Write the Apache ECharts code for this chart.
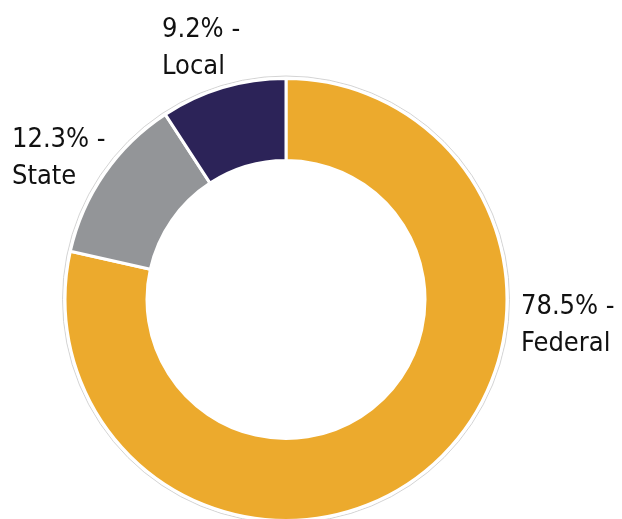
<!DOCTYPE html>
<html>
<head>
<meta charset="utf-8">
<script src="https://cdn.jsdelivr.net/npm/echarts@6/dist/echarts.min.js"></script>
<style>
html,body{margin:0;padding:0;background:#fff;}
#chart{width:622px;height:519px;}
</style>
</head>
<body>
<div id="chart"></div>
<script>
// Data
var categories = ['Federal', 'State', 'Local'];
var values = [78.5, 12.3, 9.2];

// Styles
var colors = ['#ECAA2D', '#939598', '#2C2358'];
var labelAnchors = [[521, 325], [12, 158], [162, 48]]; // label block anchor (left, middle)

var chart = echarts.init(document.getElementById('chart'), null, {renderer: 'canvas'});
var seriesData = categories.map(function (c, i) {
  return {name: c, value: values[i], itemStyle: {color: colors[i]}};
});

chart.setOption({
  animation: false,
  backgroundColor: '#ffffff',
  series: [
    {
      type: 'pie',
      silent: true,
      center: [286, 299.5],
      radius: [0, 223.5],
      z: 1,
      label: {show: false},
      labelLine: {show: false},
      itemStyle: {color: '#ffffff', borderColor: '#d4d4d4', borderWidth: 1},
      data: [{value: 1, name: ''}]
    },
    {
      type: 'pie',
      center: [286, 299.5],
      radius: [139, 221],
      startAngle: 90,
      clockwise: true,
      z: 2,
      itemStyle: {borderColor: '#ffffff', borderWidth: 3},
      label: {
        show: true,
        position: 'outside',
        formatter: function (p) { return p.value.toFixed(1) + '% -\n' + p.name; },
        fontFamily: '"DejaVu Sans Condensed", "DejaVu Sans", sans-serif',
        fontSize: 27,
        lineHeight: 37,
        color: '#111111',
        align: 'left',
        overflow: 'none',
        edgeDistance: 0,
        bleedMargin: 0
      },
      labelLine: {show: false},
      labelLayout: function (params) {
        var a = labelAnchors[params.dataIndex];
        return {x: a[0], y: a[1], align: 'left', verticalAlign: 'middle', width: 200};
      },
      data: seriesData
    }
  ]
});
</script>
</body>
</html>
